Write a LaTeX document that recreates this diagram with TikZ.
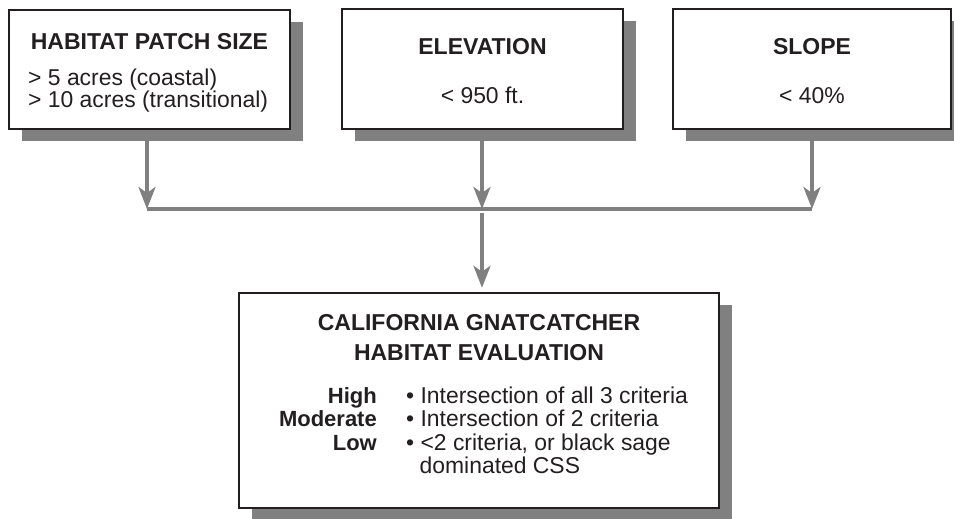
\documentclass[tikz,border=0pt]{standalone}
\usepackage{fontspec}
\setmainfont{Liberation Sans}
\usetikzlibrary{arrows.meta,shadows}
\definecolor{edge}{HTML}{231F20}
\definecolor{shade}{HTML}{808080}
\begin{document}
\begin{tikzpicture}[x=1pt,y=-1pt,
  box/.style={draw=edge,line width=2.4pt,fill=white,inner sep=0pt,
    drop shadow={shadow xshift=12.5pt,shadow yshift=-12pt,fill=shade,opacity=1}},
  ttl/.style={font=\fontsize{23}{26}\selectfont\bfseries,anchor=base,inner sep=0pt,text=edge},
  lbl/.style={font=\fontsize{22}{26}\selectfont\bfseries,anchor=base east,inner sep=0pt,text=edge},
  txt/.style={font=\fontsize{22.9}{24}\selectfont,anchor=base,inner sep=0pt,text=edge},
  conn/.style={draw=shade,line width=3.6pt},
  arr/.style={conn,-{Stealth[length=22pt,width=17pt,inset=6pt]}}
  ]
\useasboundingbox (0,0) rectangle (954,519);
% boxes
\node[box,minimum width=281pt,minimum height=119pt] (b1) at (149.5,69.5) {};
\node[box,minimum width=281pt,minimum height=120pt] (b2) at (482.5,69) {};
\node[box,minimum width=278pt,minimum height=120pt] (b3) at (812,69) {};
\node[box,minimum width=480pt,minimum height=215pt] (b4) at (479,400.5) {};
% texts
\node[ttl] (t1) at (149.5,50) {HABITAT PATCH SIZE};
\node[txt,anchor=base west] (s1a) at (28,86) {> 5 acres (coastal)};
\node[txt,anchor=base west] (s1b) at (28,107) {> 10 acres (transitional)};
\node[ttl] (t2) at (482.5,55) {ELEVATION};
\node[txt] (s2) at (482.5,103.5) {< 950 ft.};
\node[ttl] (t3) at (812,55) {SLOPE};
\node[txt] (s3) at (812,103.5) {< 40\%};
\node[ttl] (t4a) at (479,330) {CALIFORNIA GNATCATCHER};
\node[ttl] (t4b) at (479,360) {HABITAT EVALUATION};
\node[lbl] (l1) at (377,403) {High};
\node[lbl] (l2) at (377,426.5) {Moderate};
\node[lbl] (l3) at (377,450) {Low};
\node[txt,anchor=base west] (d1) at (406,403) {\textbullet\ Intersection of all 3 criteria};
\node[txt,anchor=base west] (d2) at (406,426.5) {\textbullet\ Intersection of 2 criteria};
\node[txt,anchor=base west] (d3) at (406,450) {\textbullet\ <2 criteria, or black sage};
\node[txt,anchor=base west] (d4) at (419.5,473.5) {dominated CSS};
% connectors
\coordinate (h1) at (147,209);
\coordinate (h2) at (482,209);
\coordinate (h3) at (812,209);
\coordinate (hm) at (482,213);
\draw[arr] (b1.south -| h1) -- (h1);
\draw[arr] (b2.south -| h2) -- (h2);
\draw[arr] (b3.south -| h3) -- (h3);
\draw[conn] (h1) -- (h3);
\draw[arr,shorten >=4pt] (hm) -- (b4.north -| hm);
\end{tikzpicture}
\end{document}
